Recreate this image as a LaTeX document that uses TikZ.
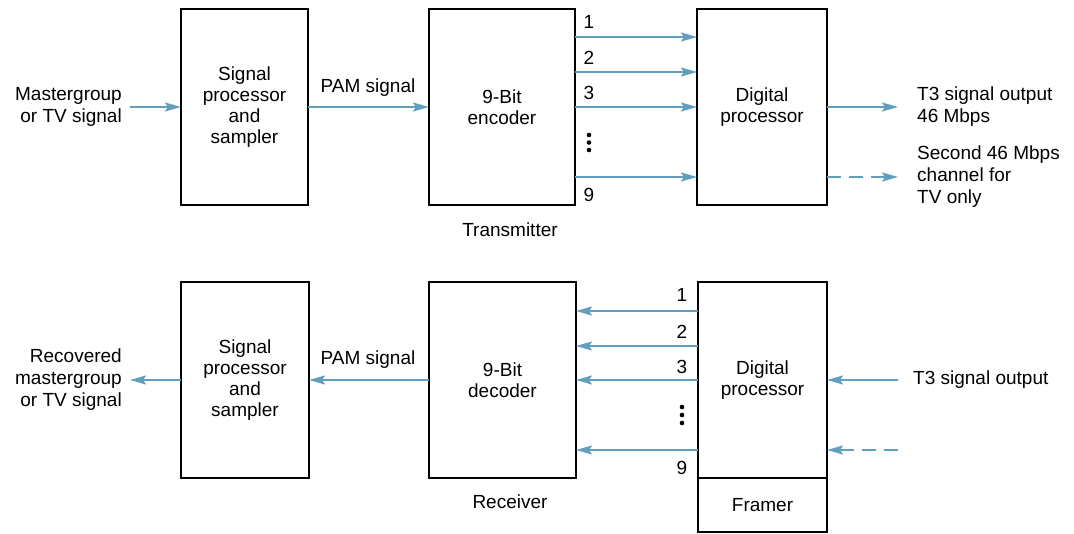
\documentclass[tikz,border=0pt]{standalone}
\usepackage{fontspec}
\setmainfont{Liberation Sans}
\usetikzlibrary{arrows.meta}
\definecolor{sig}{RGB}{98,158,190}
\begin{document}
\begin{tikzpicture}[x=1pt,y=-1pt,
  blk/.style={draw=black, line width=1.7pt, inner sep=0pt, outer sep=0pt, align=center, minimum height=196pt, font=\fontsize{19}{21}\selectfont},
  lbl/.style={inner sep=0pt, font=\fontsize{19}{22}\selectfont},
  sigarrow/.style={draw=sig, line width=2.1pt, -{Stealth[length=16pt,width=9pt,inset=3pt]}},
  dasharrow/.style={sigarrow, dash pattern=on 14pt off 8pt},
  dotmark/.style={circle, fill=black, inner sep=0pt, minimum size=4.6pt}]
\useasboundingbox (0,0) rectangle (1074,534);

% ---------- Transmitter ----------
\node[blk, minimum width=127pt] (sp1) at (244.5,107) {Signal\\processor\\and\\sampler};
\node[blk, minimum width=146pt] (enc) at (502,107) {9-Bit\\encoder};
\node[blk, minimum width=130pt] (dp1) at (762,107) {Digital\\processor};

\node[lbl, anchor=east, align=right] (in1) at (122,107) {Mastergroup\\or TV signal};
\node[lbl] (pam1) at (368,88) {PAM signal};
\node[lbl, anchor=west, align=left] (out1) at (917,107) {T3 signal output\\46 Mbps};
\node[lbl, anchor=west, align=left] (sec1) at (917,177) {Second 46 Mbps\\channel for\\TV only};
\node[lbl] (tx) at (510,230) {Transmitter};

\draw[sigarrow] ([xshift=8pt]in1.east) -- (sp1.west);
\draw[sigarrow] (sp1.east) -- (enc.west);
\draw[sigarrow] ([yshift=70pt]enc.east) -- ([yshift=70pt]dp1.west);
\draw[sigarrow] ([yshift=35pt]enc.east) -- ([yshift=35pt]dp1.west);
\draw[sigarrow] (enc.east) -- (dp1.west);
\draw[sigarrow] ([yshift=-70pt]enc.east) -- ([yshift=-70pt]dp1.west);
\draw[sigarrow] (dp1.east) -- ([xshift=-19pt]out1.west);
\draw[dasharrow] ([yshift=-70pt]dp1.east) -- ([xshift=-19pt]sec1.west);

\node[lbl] (t1) at (589,22) {1};
\node[lbl] (t2) at (589,58) {2};
\node[lbl] (t3) at (589,93) {3};
\node[lbl] (t9) at (589,195) {9};
\node[dotmark] (td1) at (589,135) {};
\node[dotmark] (td2) at (589,142.5) {};
\node[dotmark] (td3) at (589,150) {};

% ---------- Receiver ----------
\node[blk, minimum width=128pt] (sp2) at (245,380) {Signal\\processor\\and\\sampler};
\node[blk, minimum width=147pt] (dec) at (502.5,380) {9-Bit\\decoder};
\node[blk, minimum width=129pt] (dp2) at (762.5,380) {Digital\\processor};
\node[blk, minimum width=129pt, minimum height=54pt, anchor=north] (fr) at (dp2.south) {Framer};

\node[lbl, anchor=east, align=right] (rec) at (122,380) {Recovered\\mastergroup\\or TV signal};
\node[lbl] (pam2) at (368,360) {PAM signal};
\node[lbl, anchor=west] (in2) at (913,380) {T3 signal output};
\coordinate (dsh2) at (898,450);
\node[lbl] (rx) at (510,502) {Receiver};

\draw[sigarrow] (sp2.west) -- ([xshift=8pt]rec.east);
\draw[sigarrow] (dec.west) -- (sp2.east);
\draw[sigarrow] ([yshift=69pt]dp2.west) -- ([yshift=69pt]dec.east);
\draw[sigarrow] ([yshift=34pt]dp2.west) -- ([yshift=34pt]dec.east);
\draw[sigarrow] (dp2.west) -- (dec.east);
\draw[sigarrow] ([yshift=-70pt]dp2.west) -- ([yshift=-70pt]dec.east);
\draw[sigarrow] ([xshift=-15pt]in2.west) -- (dp2.east);
\draw[dasharrow] (dsh2) -- (dp2.east |- dsh2);

\node[lbl] (r1) at (682,295) {1};
\node[lbl] (r2) at (682,332) {2};
\node[lbl] (r3) at (682,367) {3};
\node[lbl] (r9) at (682,468) {9};
\node[dotmark] (rd1) at (682,407) {};
\node[dotmark] (rd2) at (682,415) {};
\node[dotmark] (rd3) at (682,423) {};
\end{tikzpicture}
\end{document}
